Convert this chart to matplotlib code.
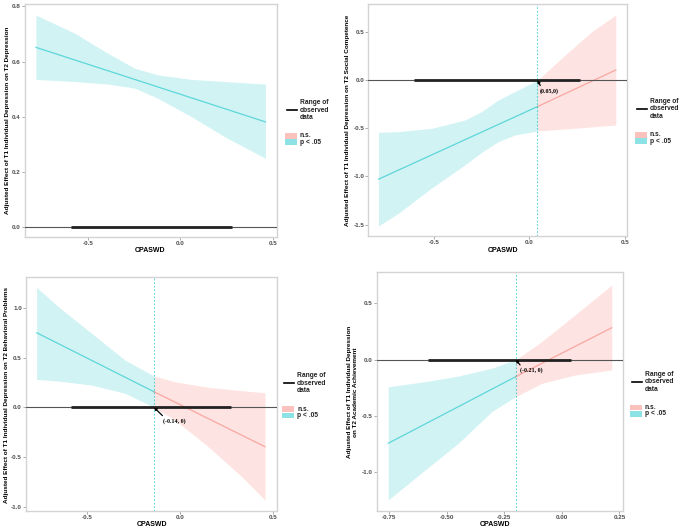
import numpy as np
import matplotlib
matplotlib.use("Agg")
import matplotlib.pyplot as plt
from matplotlib.lines import Line2D
from matplotlib.patches import Rectangle

plt.rcParams['font.family'] = ['Liberation Sans', 'DejaVu Sans']

# ---- data (x = CPASWD) ----
# panel 1: T2 Depression (significant everywhere)
x1 = [-0.78, -0.57, -0.39, -0.245, -0.12, 0.06, 0.24, 0.46]
up1 = [0.769, 0.703, 0.630, 0.576, 0.552, 0.536, 0.528, 0.519]
lo1 = [0.536, 0.528, 0.519, 0.504, 0.467, 0.401, 0.328, 0.250]
line_x1 = [-0.78, 0.46]
line_y1 = [0.652, 0.382]
range1 = [-0.59, 0.277]

# panel 2: T2 Social Competence
x2 = [-0.789, -0.685, -0.511, -0.337, -0.250, -0.163, -0.076, 0.042, 0.187, 0.326, 0.452]
up2 = [-0.541, -0.534, -0.500, -0.413, -0.326, -0.205, -0.118, 0.0, 0.263, 0.505, 0.679]
lo2 = [-1.515, -1.383, -1.120, -0.880, -0.750, -0.638, -0.569, -0.527, -0.506, -0.485, -0.465]
line_x2 = [-0.789, 0.042, 0.452]
line_y2 = [-1.029, -0.274, 0.107]
jn2 = 0.042
range2 = [-0.601, 0.265]

# panel 3: T2 Behavioral Problems
x3 = [-0.771, -0.654, -0.475, -0.296, -0.140, -0.027, 0.152, 0.332, 0.457]
up3 = [1.206, 1.011, 0.744, 0.475, 0.315, 0.257, 0.201, 0.167, 0.147]
lo3 = [0.281, 0.264, 0.224, 0.141, 0.0, -0.128, -0.396, -0.697, -0.932]
line_x3 = [-0.771, -0.140, 0.457]
line_y3 = [0.750, 0.157, -0.396]
jn3 = -0.140
range3 = [-0.586, 0.272]

# panel 4: T2 Academic Achievement
x4 = [-0.753, -0.593, -0.449, -0.304, -0.200, -0.087, 0.057, 0.217]
up4 = [-0.240, -0.195, -0.145, -0.076, 0.0, 0.160, 0.397, 0.663]
lo4 = [-1.245, -0.979, -0.742, -0.461, -0.328, -0.210, -0.136, -0.091]
line_x4 = [-0.753, -0.200, 0.217]
line_y4 = [-0.742, -0.151, 0.284]
jn4 = -0.200
range4 = [-0.579, 0.040]

ylabels = [
    'Adjusted Effect of T1 Individual Depression on T2 Depression',
    'Adjusted Effect of T1 Individual Depression on T2 Social Competence',
    'Adjusted Effect of T1 Individual Depression on T2 Behavioral Problems',
    'Adjusted Effect of T1 Individual Depression\non T2 Academic Achievement',
]
jn_labels = [None, '(0.05,0)', '(-0.14, 0)', '(-0.21, 0)']

TEAL = '#00BFC4'
RED = '#F8766D'

W, H = 685, 529
fig = plt.figure(figsize=(W / 100, H / 100), dpi=100)


def box(l, t, r, b):
    return [l / W, 1 - b / H, (r - l) / W, (b - t) / H]


def fx(px):
    return px / W


def fy(py):
    return 1 - py / H


def draw_panel(ax, x, up, lo, lx, ly, jn, rng):
    x = np.array(x); up = np.array(up); lo = np.array(lo)
    lx = np.array(lx); ly = np.array(ly)
    if jn is None:
        ax.fill_between(x, lo, up, color=TEAL, alpha=0.18, lw=0)
        ax.plot(lx, ly, color=TEAL, alpha=0.55, lw=0.9)
    else:
        m1 = x <= jn + 1e-9
        m2 = x >= jn - 1e-9
        sig_left = up[m1].max() <= 0.001 or lo[m1].min() >= -0.001
        c1, c2 = (TEAL, RED) if sig_left else (RED, TEAL)
        ax.fill_between(x[m1], lo[m1], up[m1], color=c1, alpha=0.18, lw=0)
        ax.fill_between(x[m2], lo[m2], up[m2], color=c2, alpha=0.2, lw=0)
        l1 = lx <= jn + 1e-9
        l2 = lx >= jn - 1e-9
        ax.plot(lx[l1], ly[l1], color=c1, alpha=0.55, lw=0.9)
        ax.plot(lx[l2], ly[l2], color=c2, alpha=0.55, lw=0.9)
        ax.axvline(jn, color=TEAL, ls=(0, (1.6, 1.6)), lw=0.8, alpha=0.6)
    ax.axhline(0, color='#555555', lw=0.8, zorder=3)
    ax.plot(rng, [0, 0], color='#222222', lw=2.0, zorder=4, solid_capstyle='butt')


def style(ax, xlim, ylim, xticks, xtl, yticks, ytl):
    ax.set_xlim(xlim); ax.set_ylim(ylim)
    ax.set_xticks(xticks); ax.set_xticklabels(xtl)
    ax.set_yticks(yticks); ax.set_yticklabels(ytl)
    for s in ax.spines.values():
        s.set_color('#d3d3d3'); s.set_linewidth(1.0)
    ax.tick_params(length=2, width=0.5, color='#888888', labelsize=4.5,
                   labelcolor='#4d4d4d', pad=1.0)
    for t in ax.get_xticklabels() + ax.get_yticklabels():
        t.set_fontweight('bold')


def legend(ax_x, ax_y):
    # ax_x, ax_y: left end / y of the range-line handle, in pixels
    fig.add_artist(Line2D([fx(ax_x), fx(ax_x + 10)], [fy(ax_y), fy(ax_y)],
                          color='black', lw=1.2, transform=fig.transFigure))
    for dy, s in [(-7.5, 'Range of'), (0, 'observed'), (7.5, 'data')]:
        fig.text(fx(ax_x + 13), fy(ax_y + dy), s, fontsize=4.8, fontweight='bold',
                 color='#222222', va='center', ha='left')
    for top, c, s in [(23, RED, 'n.s.'), (29.3, TEAL, 'p < .05')]:
        fig.add_artist(Rectangle((fx(ax_x - 2), fy(top + ax_y + 5.6)), 12 / W, 5.6 / H,
                                 color=c, alpha=0.45, lw=0, transform=fig.transFigure))
        fig.text(fx(ax_x + 13), fy(ax_y + top + 2.8), s, fontsize=4.8, fontweight='bold',
                 color='#222222', va='center', ha='left')


def jn_note(ax, jn, label, off_px):
    ax.annotate(label, xy=(jn, 0), xytext=(off_px[0] * 0.72, off_px[1] * 0.72),
                textcoords='offset points', ha='left', va='top',
                fontsize=4.3, fontweight='bold', family='Liberation Serif',
                arrowprops=dict(arrowstyle='-|>,head_length=0.35,head_width=0.18',
                                color='black', lw=0.9, shrinkA=0, shrinkB=0,
                                relpos=(0.1, 1.0)), zorder=6)


tick5 = [-0.5, 0.0, 0.5]
tick5l = ['-0.5', '0.0', '0.5']

# panel 1
ax1 = fig.add_axes(box(25, 4, 277.3, 237.3))
draw_panel(ax1, x1, up1, lo1, line_x1, line_y1, None, range1)
style(ax1, (-0.839, 0.524), (-0.036, 0.809), tick5, tick5l,
      [0, 0.2, 0.4, 0.6, 0.8], ['0.0', '0.2', '0.4', '0.6', '0.8'])
fig.text(fx(150), fy(251), 'CPASWD', fontsize=5, fontweight='bold', ha='center', va='center')
fig.text(fx(7.5), fy(120.7), ylabels[0], fontsize=4.6, fontweight='bold', rotation=90,
         ha='center', va='center')
legend(287, 110)

# panel 2
ax2 = fig.add_axes(box(368.3, 4, 627.3, 236))
draw_panel(ax2, x2, up2, lo2, line_x2, line_y2, jn2, range2)
style(ax2, (-0.842, 0.512), (-1.619, 0.793), tick5, tick5l,
      [-1.5, -1.0, -0.5, 0.0, 0.5], ['-1.5', '-1.0', '-0.5', '0.0', '0.5'])
fig.text(fx(503), fy(250.5), 'CPASWD', fontsize=5, fontweight='bold', ha='center', va='center')
fig.text(fx(347), fy(120), ylabels[1], fontsize=4.6, fontweight='bold', rotation=90,
         ha='center', va='center')
legend(636.7, 109)
jn_note(ax2, jn2, jn_labels[1], (2.5, -8))

# panel 3
ax3 = fig.add_axes(box(26, 276.7, 276.7, 511))
draw_panel(ax3, x3, up3, lo3, line_x3, line_y3, jn3, range3)
style(ax3, (-0.828, 0.520), (-1.042, 1.313), tick5, tick5l,
      [-1.0, -0.5, 0.0, 0.5, 1.0], ['-1.0', '-0.5', '0.0', '0.5', '1.0'])
fig.text(fx(151.7), fy(524.5), 'CPASWD', fontsize=5, fontweight='bold', ha='center', va='center')
fig.text(fx(7), fy(395), ylabels[2], fontsize=4.6, fontweight='bold', rotation=90,
         ha='center', va='center')
legend(284, 383.3)
jn_note(ax3, jn3, jn_labels[2], (9, -11))

# panel 4
ax4 = fig.add_axes(box(376.7, 272.3, 623.3, 511))
draw_panel(ax4, x4, up4, lo4, line_x4, line_y4, jn4, range4)
style(ax4, (-0.803, 0.267), (-1.343, 0.776), [-0.75, -0.5, -0.25, 0.0, 0.25],
      ['-0.75', '-0.50', '-0.25', '0.00', '0.25'],
      [-1.0, -0.5, 0.0, 0.5], ['-1.0', '-0.5', '0.0', '0.5'])
fig.text(fx(495), fy(524.5), 'CPASWD', fontsize=5, fontweight='bold', ha='center', va='center')
fig.text(fx(352.5), fy(392), ylabels[3], fontsize=4.6, fontweight='bold', rotation=90,
         ha='center', va='center', linespacing=1.1)
legend(631.7, 381.7)
jn_note(ax4, jn4, jn_labels[3], (4.5, -8))

fig.savefig('out.png', dpi=100)
